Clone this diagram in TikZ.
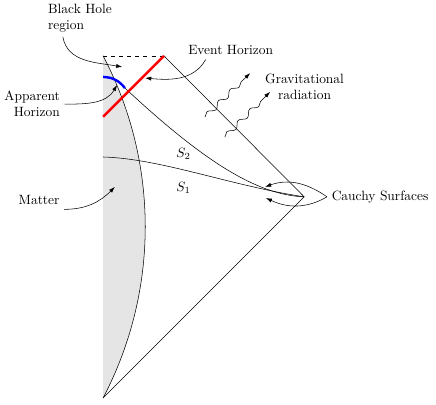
\documentclass[tikz,border=0pt]{standalone}
\usetikzlibrary{arrows, arrows.meta, decorations.pathmorphing, positioning}
\tikzstyle{annot} = [align=center]
\tikzstyle{pointer} = [thin,-{Latex[length=4.5pt,width=3pt]}]
\tikzstyle{horizon} = [line width=1.8pt]
\tikzstyle{wave} = [thin,-{Latex[length=4.5pt,width=3pt]}, decorate, decoration={snake, amplitude=1.8pt, segment length=12pt, post length=1.5mm}]

\begin{document}
\begin{tikzpicture}
\useasboundingbox (-2.69,-0.157) rectangle (8.69,10.388);

% Corners of the diagram
\coordinate (iminus) at (0,0);
\coordinate (izero) at (5.25,5.25);
\coordinate (ehtop) at (1.59,8.93);
\coordinate (topleft) at (0,8.93);
\coordinate (ehbottom) at (0,7.34);
\coordinate (ahstart) at (0,8.38);
\coordinate (ahend) at (0.57,8.09);
\coordinate (sonestart) at (0,6.29);

% Matter region
\fill[gray!20] (iminus) arc[start angle=-27.7, end angle=27.7, radius=9.61] -- cycle;
\draw (iminus) arc[start angle=-27.7, end angle=27.7, radius=9.61];

% Boundaries
\draw (iminus) -- (izero) -- (ehtop);
\draw[dashed] (topleft) -- (ehtop);

% Cauchy surfaces
\draw (sonestart) .. controls (1.5,6.25) and (3.3,5.55) .. (izero);
\draw (ahend) .. controls (2.6,6.2) and (4.0,5.3) .. (izero);

% Horizons
\draw[horizon, blue] (ahstart) to[bend left=25] (ahend);
\draw[horizon, red] (ehbottom) -- (ehtop);

% Labels
\node[align=left] (bhlabel) at (-0.60,9.92) {Black Hole\\region};
\node[align=right] (ahlabel) at (-1.85,7.67) {Apparent\\Horizon};
\node[annot] (matterlabel) at (-1.67,5.17) {Matter};
\node[annot] (ehlabel) at (3.33,9.08) {Event Horizon};
\node[annot] (gravlabel) at (5.26,8.12) {Gravitational\\radiation};
\node[annot] (cauchylabel) at (7.23,5.25) {Cauchy Surfaces};
\node (stwolabel) at (2.10,6.37) {$S_2$};
\node (sonelabel) at (2.10,5.49) {$S_1$};

% Arrow tips
\coordinate (bhtip) at (0.50,8.64);
\coordinate (ahtip) at (0.365,8.17);
\coordinate (mattertip) at (0.31,5.51);
\coordinate (ehtip) at (1.10,8.35);
\coordinate (stwotip) at (4.23,5.51);
\coordinate (sonetip) at (4.25,5.22);

\draw[pointer] ([xshift=-0.45cm]bhlabel.south) to[out=-80, in=170] (bhtip);
\draw[pointer] (ahlabel.east) to[out=0, in=-120] (ahtip);
\draw[pointer] (matterlabel.south east) to[out=0, in=-135] (mattertip);
\draw[pointer] ([xshift=-0.65cm]ehlabel.south) to[out=-120, in=-5] (ehtip);
\draw[pointer] (cauchylabel.west) to[out=145, in=20] (stwotip);
\draw[pointer] (cauchylabel.west) to[out=210, in=-25] (sonetip);

% Gravitational waves
\coordinate (waveonea) at (2.66,7.33);
\coordinate (waveoneb) at (3.84,8.48);
\coordinate (wavetwoa) at (3.18,6.81);
\coordinate (wavetwob) at (4.36,7.99);
\draw[wave] (waveonea) -- (waveoneb);
\draw[wave] (wavetwoa) -- (wavetwob);
\end{tikzpicture}
\end{document}
